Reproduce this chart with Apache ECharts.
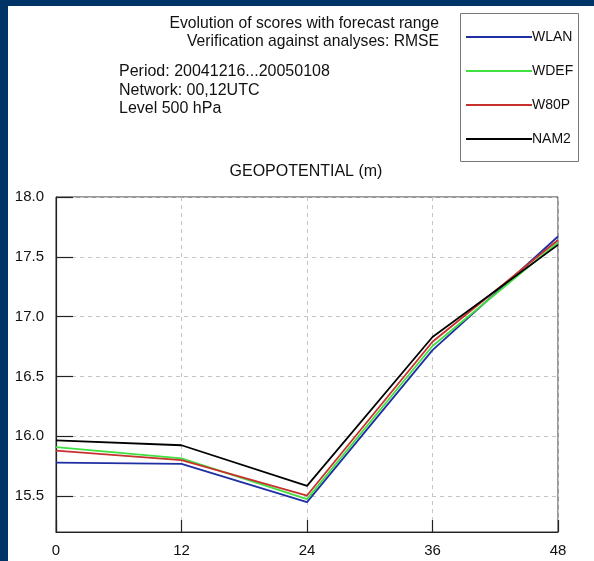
<!DOCTYPE html>
<html>
<head>
<meta charset="utf-8">
<script src="https://cdn.jsdelivr.net/npm/echarts@6/dist/echarts.min.js"></script>
<style>
  html, body { margin: 0; padding: 0; background: #fff; }
  #chart { width: 594px; height: 561px; }
</style>
</head>
<body>
<div id="chart"></div>
<script>
// Forecast ranges (hours)
const ranges = [0, 12, 24, 36, 48];
// RMSE of 500 hPa geopotential (m) per experiment
const wlan = [15.78, 15.77, 15.45, 16.72, 17.67];
const wdef = [15.91, 15.815, 15.475, 16.755, 17.62];
const w80p = [15.88, 15.80, 15.505, 16.79, 17.64];
const nam2 = [15.965, 15.925, 15.585, 16.83, 17.60];
const yTicks = [15.5, 16.0, 16.5, 17.0, 17.5, 18.0];

const names = ['WLAN', 'WDEF', 'W80P', 'NAM2'];
const values = [wlan, wdef, w80p, nam2];
const colors = ['#1f2ea3', '#3fe03f', '#c8322e', '#000000'];

const font = '"Liberation Sans", Arial, Helvetica, sans-serif';

const chart = echarts.init(document.getElementById('chart'), null, { renderer: 'canvas' });

const series = names.map((n, i) => ({
  name: n,
  type: 'line',
  data: ranges.map((r, j) => [r, values[i][j]]),
  symbol: 'none',
  lineStyle: { color: colors[i], width: 1.8 },
  itemStyle: { color: colors[i] },
  z: 3 + i
}));

chart.setOption({
  animation: false,
  backgroundColor: '#ffffff',
  textStyle: { fontFamily: font },
  grid: {
    left: 56, right: 36, top: 197, bottom: 29,
    show: true, borderColor: '#333', borderWidth: 1, backgroundColor: 'transparent'
  },
  xAxis: {
    type: 'value', min: 0, max: 48, interval: 12,
    axisLine: { lineStyle: { color: '#222', width: 1.2 } },
    axisTick: { inside: true, length: 12, lineStyle: { color: '#222', width: 1.2 } },
    axisLabel: { color: '#111', fontSize: 15, margin: 11, fontFamily: font },
    splitLine: { show: true, lineStyle: { color: '#c4c4c4', type: [4, 4], width: 1 } }
  },
  yAxis: {
    type: 'value', min: 15.2, max: 18.0,
    axisLine: { show: true, lineStyle: { color: '#222', width: 1.2 } },
    axisTick: { show: true, inside: true, length: 17, customValues: yTicks, lineStyle: { color: '#222', width: 1.2 } },
    axisLabel: {
      customValues: yTicks, color: '#111', fontSize: 15, margin: 12, fontFamily: font,
      formatter: v => v.toFixed(1)
    },
    splitLine: { show: true, lineStyle: { color: '#c4c4c4', type: [4, 4], width: 1 } }
  },
  legend: {
    data: names,
    orient: 'vertical',
    left: 466, top: 30, padding: 0,
    itemWidth: 66, itemHeight: 2, itemGap: 20,
    icon: 'rect',
    textStyle: { fontSize: 14, color: '#111', fontFamily: font, lineHeight: 14, padding: [0, 0, 0, -5] },
    selectedMode: false
  },
  graphic: [
    // page frame
    { type: 'rect', left: 0, top: 0, shape: { width: 594, height: 6 }, style: { fill: '#003366' }, silent: true },
    { type: 'rect', left: 0, top: 0, shape: { width: 8, height: 561 }, style: { fill: '#003366' }, silent: true },
    // legend box
    { type: 'rect', shape: { x: 460.5, y: 13.5, width: 118, height: 148 }, style: { fill: 'none', stroke: '#777', lineWidth: 1 }, silent: true },
    // headings
    { type: 'text', style: { x: 439, y: 24, text: 'Evolution of scores with forecast range', textAlign: 'right', textVerticalAlign: 'middle', font: '15.7px ' + font, fill: '#111' } },
    { type: 'text', style: { x: 439, y: 42, text: 'Verification against analyses: RMSE', textAlign: 'right', textVerticalAlign: 'middle', font: '15.7px ' + font, fill: '#111' } },
    { type: 'text', style: { x: 119, y: 72, text: 'Period: 20041216...20050108', textAlign: 'left', textVerticalAlign: 'middle', font: '16px ' + font, fill: '#111' } },
    { type: 'text', style: { x: 119, y: 90.5, text: 'Network: 00,12UTC', textAlign: 'left', textVerticalAlign: 'middle', font: '16px ' + font, fill: '#111' } },
    { type: 'text', style: { x: 119, y: 109, text: 'Level 500 hPa', textAlign: 'left', textVerticalAlign: 'middle', font: '16px ' + font, fill: '#111' } },
    { type: 'text', style: { x: 306, y: 172, text: 'GEOPOTENTIAL (m)', textAlign: 'center', textVerticalAlign: 'middle', font: '16px ' + font, fill: '#111' } }
  ],
  series: series
});
</script>
</body>
</html>
